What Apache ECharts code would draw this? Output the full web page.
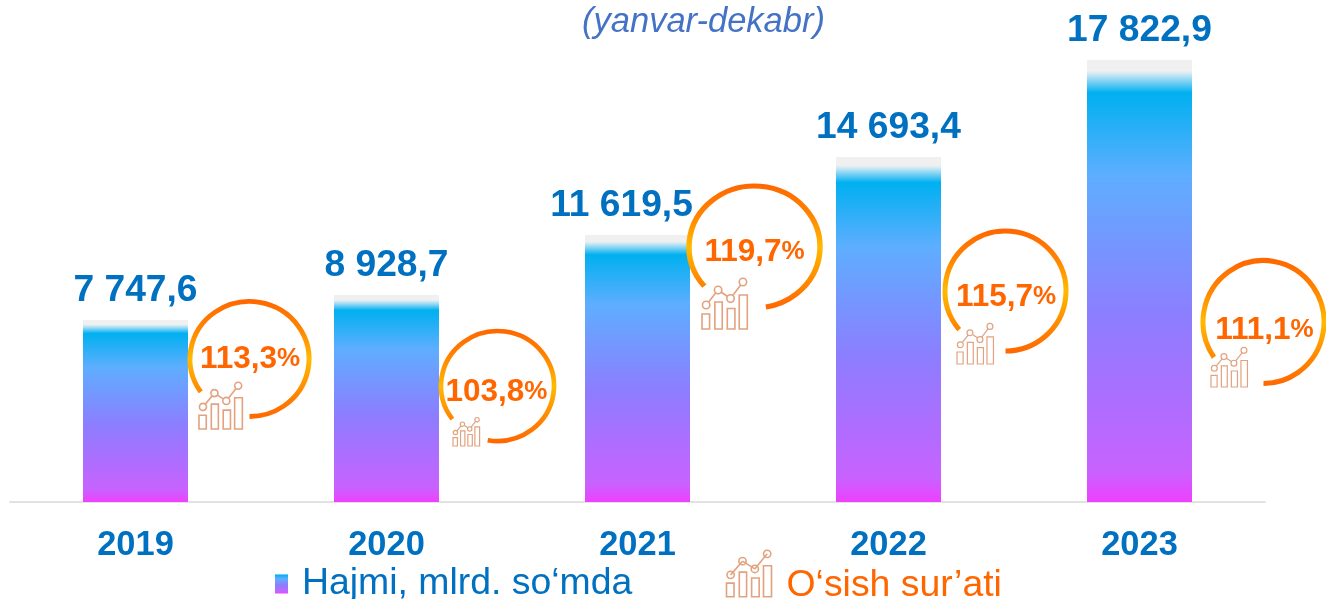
<!DOCTYPE html>
<html><head><meta charset="utf-8">
<style>html,body{margin:0;padding:0;background:#fff;overflow:hidden}#c{width:1326px;height:599px}</style>
<script src="https://cdn.jsdelivr.net/npm/echarts@6/dist/echarts.min.js"></script>
</head><body><div id="c"></div>
<script>
// Data
const years = ['2019','2020','2021','2022','2023'];
const volumeLabels = ['7 747,6','8 928,7','11 619,5','14 693,4','17 822,9'];
// Bar heights as drawn in the picture (the source bars are not exactly proportional to their labels)
const drawnHeights = [7339, 8347, 10766, 13911, 17823];
const growth = [113.3, 103.8, 119.7, 115.7, 111.1];
const titleText = '(yanvar-dekabr)';
const volumeName = 'Hajmi, mlrd. so‘mda';
const growthName = 'O‘sish sur’ati';

// Layout of the ring annotations (px, relative to bar centre x / chart)
const ringLayout = [
  {dx:114, cy:359, rx:59.5, ry:57.5, a0:145, a1:450, tx:114.5, ty:359, ix:199, iy:383, iw:44, ih:46},
  {dx:111, cy:386, rx:56.5, ry:55, a0:143, a1:460, tx:110, ty:392, ix:453, iy:418, iw:27, ih:28},
  {dx:117, cy:247, rx:65.5, ry:61, a0:140, a1:440, tx:117, ty:252, ix:702, iy:279, iw:46, ih:50},
  {dx:117, cy:291, rx:60.5, ry:60, a0:140, a1:450, tx:117.5, ty:297, ix:957, iy:324, iw:37, ih:40},
  {dx:124, cy:322, rx:60.5, ry:61.5, a0:145, a1:450, tx:125, ty:330, ix:1211, iy:348, iw:37, ih:39}
];
const labelOffsets = [0,0,-16,0,0];
const iconBars = [[0,.70,.165,.30],[.28,.46,.16,.54],[.55,.59,.165,.41],[.81,.32,.175,.68]];
const iconDots = [[.09,.52],[.35,.22],[.62,.39],[.89,.06]];
const iconDotR = .08;

const barGrad = new echarts.graphic.LinearGradient(0,0,0,1,[
  {offset:0,color:'#F0F0F0'},{offset:.024,color:'#F0F0F0'},{offset:.03,color:'#D6EBF4'},
  {offset:.06,color:'#45C2F3'},{offset:.074,color:'#00B0F0'},{offset:.26,color:'#5EAEFF'},
  {offset:.59,color:'#8E7CFF'},{offset:.93,color:'#C862FF'},{offset:1,color:'#EE40FF'}]);
const ringGrad = () => new echarts.graphic.LinearGradient(0,0,0,1,[
  {offset:0,color:'#FF6600'},{offset:.25,color:'#FF8400'},{offset:.5,color:'#FFBA00'},
  {offset:.75,color:'#FF8C00'},{offset:1,color:'#FF6600'}]);
const iconStroke = '#E2A27E';

function iconPath(){
  let p='';
  iconBars.forEach(b=>{const [x,y,w,h]=b.map(v=>v*100);
    p+=`M${x} ${y}L${x+w} ${y}L${x+w} ${y+h}L${x} ${y+h}Z`;});
  return 'path://'+p+iconDots.map(d=>{const x=d[0]*100,y=d[1]*100,r=iconDotR*100;
    return `M${x-r} ${y}A${r} ${r} 0 1 1 ${x+r} ${y}A${r} ${r} 0 1 1 ${x-r} ${y}Z`;}).join('')
    +iconDots.slice(1).map((d,i)=>`M${iconDots[i][0]*100} ${iconDots[i][1]*100}L${d[0]*100} ${d[1]*100}`).join('');
}

function renderRing(params, api){
  const i = api.value(0), L = ringLayout[i];
  const base = api.coord([i,0])[0];
  const cx = base + L.dx;
  const kids = [];
  kids.push({type:'arc', x:cx, y:L.cy, scaleX:L.rx/60, scaleY:L.ry/60,
    shape:{cx:0,cy:0,r:60,startAngle:L.a0*Math.PI/180,endAngle:L.a1*Math.PI/180,clockwise:true},
    style:{fill:null,stroke:ringGrad(),lineWidth:5}});
  kids.push({type:'text', x:base+L.tx, y:L.ty, style:{
    text:'{a|'+String(api.value(1)).replace('.',',')+'}{b|%}',
    align:'center', verticalAlign:'middle',
    rich:{a:{font:'bold 31.5px "Liberation Sans"',fill:'#FF6600'},b:{font:'bold 26px "Liberation Sans"',fill:'#FF6600'}}
  }});
  const st = {fill:null,stroke:iconStroke,lineWidth:L.iw>40?1.6:1.2};
  iconBars.forEach(b=>kids.push({type:'rect',shape:{x:L.ix+b[0]*L.iw,y:L.iy+b[1]*L.ih,width:b[2]*L.iw,height:b[3]*L.ih},style:st}));
  iconDots.forEach((d,k)=>{
    if(k>0) kids.push({type:'line',shape:{x1:L.ix+iconDots[k-1][0]*L.iw,y1:L.iy+iconDots[k-1][1]*L.ih,x2:L.ix+d[0]*L.iw,y2:L.iy+d[1]*L.ih},style:{stroke:iconStroke,lineWidth:st.lineWidth}});
  });
  iconDots.forEach(d=>kids.push({type:'circle',shape:{cx:L.ix+d[0]*L.iw,cy:L.iy+d[1]*L.ih,r:iconDotR*L.iw},style:{fill:'#fff',stroke:iconStroke,lineWidth:st.lineWidth}}));
  return {type:'group',children:kids};
}

const chart = echarts.init(document.getElementById('c'),null,{renderer:'canvas'});
chart.setOption({
  animation:false,
  backgroundColor:'#fff',
  textStyle:{fontFamily:'"Liberation Sans",Arial,sans-serif'},
  title:{text:titleText,left:698.5,top:0,textAlign:'center',
    textStyle:{fontFamily:'"Liberation Sans"',fontSize:34.5,fontStyle:'italic',fontWeight:'normal',color:'#4472C4'}},
  grid:{left:10,right:61,top:60,bottom:97,containLabel:false},
  xAxis:{type:'category',data:years,
    axisLine:{lineStyle:{color:'#E2E2E2',width:2}},axisTick:{show:false},
    axisLabel:{color:'#0070C0',fontWeight:'bold',fontSize:34.4,margin:27,fontFamily:'"Liberation Sans"'}},
  yAxis:{type:'value',min:0,max:17823,show:false,splitLine:{show:false}},
  legend:[
    {data:[{name:volumeName,icon:'rect'}],left:270,top:560,itemWidth:13,itemHeight:20,itemGap:0,
     textStyle:{color:'#0070C0',fontSize:37.4,padding:[0,0,0,9],fontFamily:'"Liberation Sans"'},selectedMode:false},
    {data:[{name:growthName,icon:iconPath(),itemStyle:{color:'none',borderColor:iconStroke,borderWidth:1.6,opacity:1}}],
     left:719,top:538,itemWidth:45,itemHeight:48,formatter:'\n{name}',
     textStyle:{color:'#FF6600',fontSize:37.4,lineHeight:24,padding:[0,0,0,10],fontFamily:'"Liberation Sans"'},selectedMode:false}
  ],
  series:[
    {name:volumeName,type:'bar',barWidth:105,itemStyle:{color:barGrad},
     data:drawnHeights.map((v,i)=>({value:v,label:{offset:[labelOffsets[i],0]}})),
     label:{show:true,position:'top',distance:11,color:'#0070C0',fontWeight:'bold',fontSize:37.2,
       fontFamily:'"Liberation Sans"',formatter:p=>volumeLabels[p.dataIndex]}},
    {name:growthName,type:'custom',coordinateSystem:'cartesian2d',renderItem:renderRing,z:5,silent:true,
     encode:{x:0,y:1},itemStyle:{color:'#FF6600'},
     data:growth.map((g,i)=>[i,g])}
  ]
});
</script></body></html>
